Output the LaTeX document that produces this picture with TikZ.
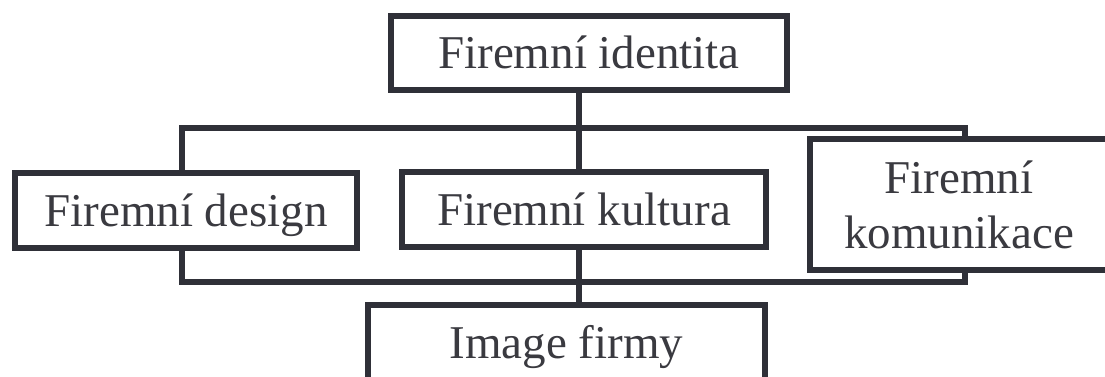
\documentclass[tikz,border=0pt]{standalone}
\usepackage{fontspec}
\setmainfont{Liberation Serif}
\usetikzlibrary{backgrounds}
\definecolor{linec}{HTML}{2F3038}
\definecolor{textc}{HTML}{3A3A40}
\begin{document}
\begin{tikzpicture}[x=1pt,y=-1pt,
  box/.style={draw=linec, line width=6.5pt, fill=white, inner sep=0pt,
    text=textc, font=\fontsize{47}{55}\selectfont, text height=31pt, text depth=0pt},
  conn/.style={draw=linec, line width=6.5pt}]
\useasboundingbox (0,0) rectangle (1105,377);
\node[box, minimum width=396pt, minimum height=74pt] (A) at (589,53) {Firemní identita};
\node[box, minimum width=342pt, minimum height=75pt] (B) at (186,210.5) {Firemní design};
\node[box, minimum width=364pt, minimum height=75pt] (C) at (584,209.5) {Firemní kultura};
\node[box, minimum width=298pt, minimum height=131pt, align=center, text height=, text depth=] (D) at (959,204.5) {Firemní\\komunikace};
\node[box, minimum width=397pt, minimum height=75pt] (E) at (566.5,342.5) {Image firmy};
\coordinate (f1) at (182,128);
\coordinate (f2) at (965,282);
\coordinate (ta) at (579,53);
\coordinate (tb) at (579,342.5);
\begin{scope}[on background layer]
\draw[conn] (f1) rectangle (f2);
\draw[conn] (ta) -- (tb);
\end{scope}
\end{tikzpicture}
\end{document}
